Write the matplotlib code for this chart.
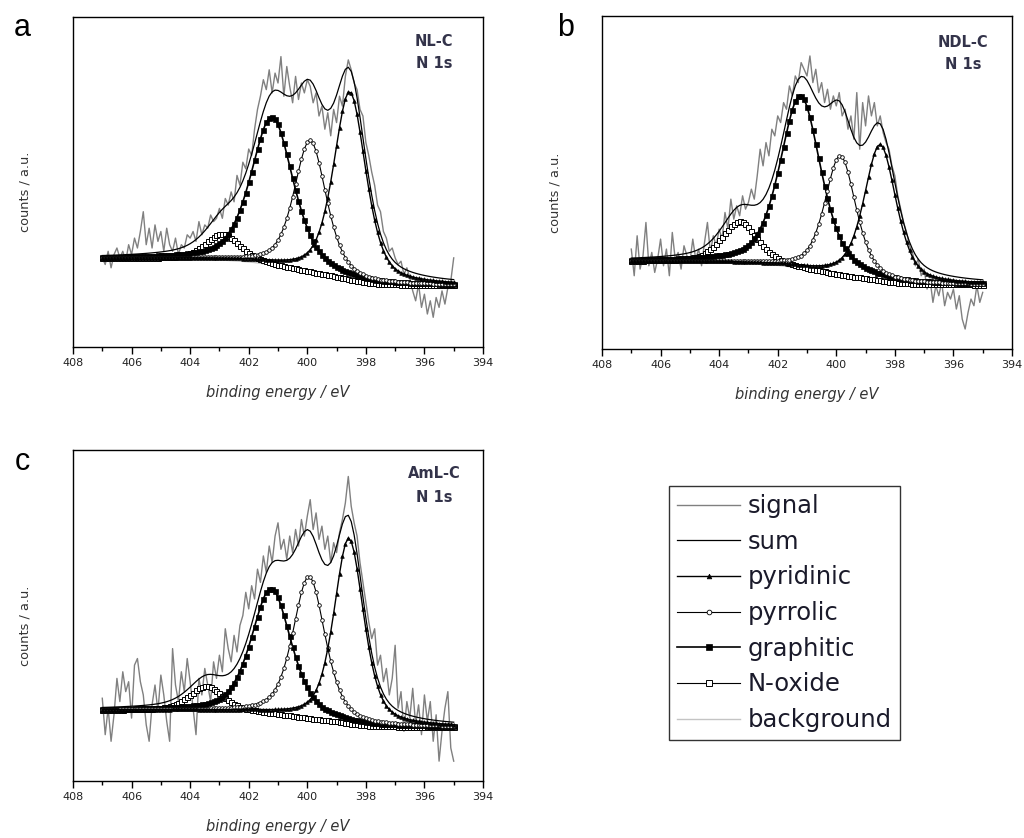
import numpy as np
import matplotlib
matplotlib.use('Agg')
import matplotlib.pyplot as plt
from matplotlib.lines import Line2D
from matplotlib.ticker import MultipleLocator

plt.rcParams['font.family'] = ['DejaVu Sans']

# ---------------- data ----------------
energy = np.round(np.linspace(407.0, 395.0, 121), 1)   # binding energy grid (eV)

component_names = ['pyridinic', 'pyrrolic', 'graphitic', 'N-oxide']

# panel a : NL-C
a_label = 'NL-C'
a_centers = [398.55, 399.90, 401.20, 402.90]
a_heights = [57.0, 40.0, 45.0, 8.0]
a_fwhm = [1.30, 1.30, 1.70, 1.40]
a_bg_left, a_bg_right = 26.8, 18.7
a_signal = [27, 25, 29, 24, 28, 30, 27, 29, 26, 31,
            28, 33, 30, 35, 41, 31, 36, 30, 37, 32,
            35, 29, 36, 31, 29, 33, 28, 31, 30, 34,
            33, 35, 32, 38, 34, 37, 36, 40, 38, 39,
            42, 39, 45, 43, 47, 44, 52, 49, 56, 54,
            60, 58, 66, 72, 76, 81, 78, 84, 77, 83,
            80, 88, 76, 85, 79, 74, 82, 75, 80, 77,
            81, 79, 74, 77, 70, 73, 66, 71, 64, 72,
            68, 76, 73, 82, 87, 84, 80, 78, 72, 70,
            62, 58, 53, 49, 43, 41, 35, 33, 29, 30,
            27, 25, 26, 22, 24, 21, 17, 14, 19, 12,
            16, 10, 14, 9, 15, 12, 17, 13, 18, 20,
            27]

# panel b : NDL-C
b_label = 'NDL-C'
b_centers = [398.50, 399.86, 401.22, 403.30]
b_heights = [41.0, 36.0, 52.0, 12.5]
b_fwhm = [1.30, 1.25, 1.65, 1.45]
b_bg_left, b_bg_right = 26.3, 19.3
b_signal = [30, 22, 34, 24, 28, 38, 25, 29, 23, 27,
            33, 25, 30, 22, 35, 27, 29, 24, 31, 28,
            26, 33, 27, 30, 25, 32, 38, 29, 34, 31,
            36, 33, 41, 36, 45, 39, 43, 40, 46, 42,
            44, 48, 45, 52, 60, 55, 62, 58, 66, 64,
            70, 68, 74, 72, 79, 76, 82, 80, 86, 84,
            82, 88, 80, 84, 77, 80, 74, 78, 72, 76,
            73, 77, 70, 72, 66, 70, 63, 77, 60, 74,
            67, 76, 70, 74, 67, 70, 65, 62, 60, 55,
            52, 46, 42, 38, 35, 31, 29, 25, 27, 22,
            24, 18, 21, 14, 19, 16, 20, 13, 17, 15,
            18, 12, 16, 9, 6, 11, 15, 13, 19, 14,
            17]

# panel c : AmL-C
c_label = 'AmL-C'
c_centers = [398.58, 399.94, 401.23, 403.45]
c_heights = [56.0, 43.0, 38.0, 7.5]
c_fwhm = [1.20, 1.30, 1.60, 1.40]
c_bg_left, c_bg_right = 21.4, 16.3
c_signal = [25, 14, 22, 12, 20, 31, 24, 33, 27, 30,
            19, 35, 37, 30, 26, 17, 12, 23, 29, 21,
            32, 26, 18, 12, 40, 29, 24, 33, 27, 37,
            30, 22, 14, 31, 26, 34, 29, 24, 36, 31,
            38, 33, 46, 40, 36, 44, 39, 47, 50, 57,
            52, 59, 55, 64, 60, 68, 63, 71, 66, 74,
            78, 70, 73, 67, 74, 69, 76, 71, 79, 74,
            80, 85, 76, 81, 73, 77, 70, 74, 66, 72,
            69, 75, 79, 84, 92, 83, 78, 74, 66, 60,
            54, 48, 43, 46, 35, 38, 30, 34, 26, 31,
            41, 22, 27, 15, 24, 19, 28, 17, 23, 14,
            26, 18, 24, 12, 20, 6, 15, 22, 27, 10,
            6]

lorentz_fraction = 0.5

# ---------------- helpers ----------------
def peak_shape(x, center, height, fwhm):
    d = (x - center) / fwhm
    gauss = np.exp(-4.0 * np.log(2.0) * d ** 2)
    lor = 1.0 / (1.0 + 4.0 * d ** 2)
    return height * ((1 - lorentz_fraction) * gauss + lorentz_fraction * lor)


def build_fit(centers, heights, fwhm, bg_left, bg_right):
    peaks = [peak_shape(energy, c, h, w) for c, h, w in zip(centers, heights, fwhm)]
    total = np.sum(peaks, axis=0)
    # Shirley-type background: cumulative area from the low binding-energy end
    cum = np.cumsum(total[::-1])[::-1]
    bg = bg_right + (bg_left - bg_right) * cum / cum[0]
    comps = [bg + p for p in peaks]
    fit_sum = bg + total
    return bg, comps, fit_sum


styles = {
    'pyridinic': dict(color='black', lw=1.0, marker='^', ms=2.6, mfc='black', mec='black', mew=0.5),
    'pyrrolic': dict(color='black', lw=0.8, marker='o', ms=2.6, mfc='white', mec='black', mew=0.6),
    'graphitic': dict(color='black', lw=1.2, marker='s', ms=3.6, mfc='black', mec='black', mew=0.5),
    'N-oxide': dict(color='black', lw=0.8, marker='s', ms=3.6, mfc='white', mec='black', mew=0.7),
}
signal_style = dict(color='#808080', lw=1.0)
sum_style = dict(color='black', lw=0.9)
bg_style = dict(color='#c4c4c4', lw=1.0)

fig = plt.figure(figsize=(10.24, 8.38), dpi=100)

panels = [
    ('a', a_label, a_signal, a_centers, a_heights, a_fwhm, a_bg_left, a_bg_right,
     [73 / 1024, 1 - 347 / 838, 410 / 1024, 330 / 838], (22, 28), (0.927, 0.858)),
    ('b', b_label, b_signal, b_centers, b_heights, b_fwhm, b_bg_left, b_bg_right,
     [602 / 1024, 1 - 349 / 838, 410 / 1024, 333 / 838], (566, 28), (0.919, 0.853)),
    ('c', c_label, c_signal, c_centers, c_heights, c_fwhm, c_bg_left, c_bg_right,
     [73 / 1024, 1 - 781 / 838, 410 / 1024, 331 / 838], (22, 462), (0.930, 0.855)),
]

for letter, label, signal, centers, heights, fwhm, bgl, bgr, rect, lpos, tpos in panels:
    ax = fig.add_axes(rect)
    bg, comps, fit_sum = build_fit(centers, heights, fwhm, bgl, bgr)
    ax.plot(energy, signal, zorder=1, **signal_style)
    ax.plot(energy, bg, zorder=2, **bg_style)
    order = [3, 2, 1, 0]
    for i in order:
        ax.plot(energy, comps[i], zorder=3 + (3 - i), **styles[component_names[i]])
    ax.plot(energy, fit_sum, zorder=8, **sum_style)

    ax.set_xlim(408, 394)
    ax.set_ylim(0, 100)
    ax.xaxis.set_major_locator(MultipleLocator(2))
    ax.xaxis.set_minor_locator(MultipleLocator(1))
    ax.tick_params(axis='x', which='major', direction='out', length=5, width=1.0,
                   labelsize=8, pad=3, labelcolor='#222222')
    ax.tick_params(axis='x', which='minor', direction='out', length=3, width=1.0)
    ax.set_yticks([])
    for s in ax.spines.values():
        s.set_linewidth(1.0)
    ax.set_xlabel('binding energy / eV', fontsize=10.5, style='italic', color='#333333', labelpad=12)
    ax.set_ylabel('counts / a.u.', fontsize=9.3, color='#333333')
    ax.yaxis.set_label_coords(-0.1, 0.47)
    ax.text(0.88, tpos[0], label, transform=ax.transAxes, ha='center', va='center',
            fontsize=10.5, fontweight='bold', color='#33334a')
    ax.text(0.88, tpos[1], 'N 1s', transform=ax.transAxes, ha='center', va='center',
            fontsize=10.5, fontweight='bold', color='#33334a')
    fig.text(lpos[0] / 1024, 1 - lpos[1] / 838, letter, ha='center', va='center',
             fontsize=22, color='black', family='Liberation Sans')

handles = [Line2D([], [], **signal_style), Line2D([], [], **sum_style)]
for n in component_names:
    st = dict(styles[n])
    st['ms'] = st['ms'] * 1.3
    handles.append(Line2D([], [], **st))
handles.append(Line2D([], [], **bg_style))
labels = ['signal', 'sum'] + component_names + ['background']

leg = fig.legend(handles, labels, loc='upper left',
                 bbox_to_anchor=(669 / 1024, 1 - 486 / 838),
                 borderaxespad=0, fontsize=17.5, handlelength=2.6, handletextpad=0.3,
                 borderpad=0.33, labelspacing=0.48, frameon=True, fancybox=False,
                 numpoints=1)
leg.get_frame().set_edgecolor('black')
leg.get_frame().set_linewidth(1.0)
for t in leg.get_texts():
    t.set_color('#1a1a2a')

fig.savefig('out.png', dpi=100)
